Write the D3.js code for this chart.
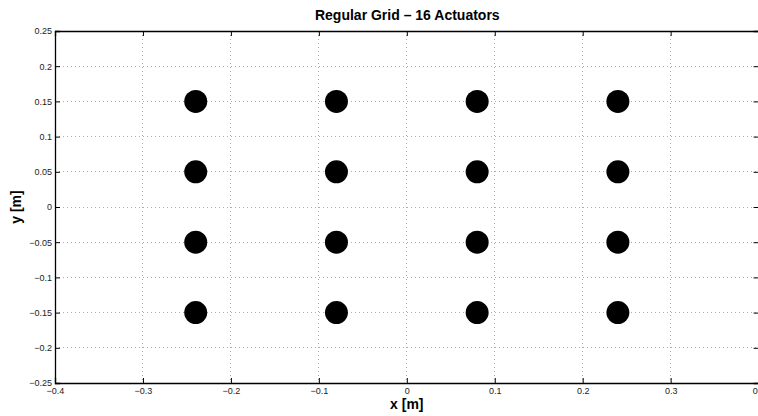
<!DOCTYPE html>
<html>
<head>
<meta charset="utf-8">
<script src="https://cdn.jsdelivr.net/npm/d3@7"></script>
<style>
  html, body { margin: 0; padding: 0; background: #fff; }
  svg { display: block; font-family: "Liberation Sans", Arial, Helvetica, sans-serif; }
</style>
</head>
<body>
<svg id="chart" width="758" height="416"></svg>
<script>
// Actuator positions on a regular 4 x 4 grid (metres)
const actuatorX = [-0.24, -0.08, 0.08, 0.24];
const actuatorY = [0.15, 0.05, -0.05, -0.15];

// Axis ticks and their labels
const xTicks = [-0.4, -0.3, -0.2, -0.1, 0, 0.1, 0.2, 0.3, 0.4];
const xTickLabels = ["\u22120.4", "\u22120.3", "\u22120.2", "\u22120.1", "0", "0.1", "0.2", "0.3", "0.4"];
const yTicks = [-0.25, -0.2, -0.15, -0.1, -0.05, 0, 0.05, 0.1, 0.15, 0.2, 0.25];
const yTickLabels = ["\u22120.25", "\u22120.2", "\u22120.15", "\u22120.1", "\u22120.05", "0", "0.05", "0.1", "0.15", "0.2", "0.25"];

const titleText = "Regular Grid \u2013 16 Actuators";
const xLabelText = "x [m]";
const yLabelText = "y [m]";

// Build the list of actuator points (every x paired with every y)
const points = [];
actuatorY.forEach(yv => actuatorX.forEach(xv => points.push({ x: xv, y: yv })));

const svg = d3.select("#chart");
const margin = { left: 55, top: 31 };
const plotW = 703.6, plotH = 352;

const x = d3.scaleLinear().domain([-0.4, 0.4]).range([margin.left, margin.left + plotW]);
const y = d3.scaleLinear().domain([-0.25, 0.25]).range([margin.top + plotH, margin.top]);

const pLeft = margin.left, pRight = margin.left + plotW;
const pTop = margin.top, pBottom = margin.top + plotH;

// Dotted grid
const grid = svg.append("g").attr("class", "grid");
grid.selectAll("line.gx").data(xTicks.slice(1, -1)).join("line").attr("class", "gx")
  .attr("x1", d => x(d)).attr("x2", d => x(d))
  .attr("y1", pTop).attr("y2", pBottom);
grid.selectAll("line.gy").data(yTicks.slice(1, -1)).join("line").attr("class", "gy")
  .attr("x1", pLeft).attr("x2", pRight)
  .attr("y1", d => y(d)).attr("y2", d => y(d));
grid.selectAll("line")
  .attr("stroke", "#9a9a9a").attr("stroke-width", 0.8)
  .attr("stroke-dasharray", "1,3").attr("shape-rendering", "crispEdges");

// Axes with inward ticks
const xFmt = (d, i) => xTickLabels[i];
const yFmt = (d, i) => yTickLabels[i];

const gx = svg.append("g").attr("transform", `translate(0,${pBottom})`)
  .call(d3.axisBottom(x).tickValues(xTicks).tickFormat(xFmt).tickSize(-5).tickPadding(5));
const gxTop = svg.append("g").attr("transform", `translate(0,${pTop})`)
  .call(d3.axisTop(x).tickValues(xTicks).tickFormat("").tickSize(-5));
const gy = svg.append("g").attr("transform", `translate(${pLeft},0)`)
  .call(d3.axisLeft(y).tickValues(yTicks).tickFormat(yFmt).tickSize(-5).tickPadding(3));
const gyRight = svg.append("g").attr("transform", `translate(${pRight},0)`)
  .call(d3.axisRight(y).tickValues(yTicks).tickFormat("").tickSize(-5));

[gx, gxTop, gy, gyRight].forEach(g => {
  g.select(".domain").attr("stroke", "#000").attr("stroke-width", 1.3);
  g.selectAll(".tick line").attr("stroke", "#000").attr("stroke-width", 1);
  g.selectAll(".tick text").attr("fill", "#222").style("font-size", "9px")
    .style("font-family", "'Liberation Sans', Arial, Helvetica, sans-serif");
});
gx.selectAll(".tick text").attr("dy", "0.71em");

// Actuator markers
svg.append("g").selectAll("circle").data(points).join("circle")
  .attr("cx", d => x(d.x)).attr("cy", d => y(d.y))
  .attr("r", 11.5).attr("fill", "#000");

// Title and axis labels
svg.append("text").attr("x", (pLeft + pRight) / 2 + 0.5).attr("y", 20)
  .attr("text-anchor", "middle").style("font-size", "14px").style("font-weight", "bold")
  .text(titleText);
svg.append("text").attr("x", (pLeft + pRight) / 2).attr("y", 409)
  .attr("text-anchor", "middle").style("font-size", "14px").style("font-weight", "bold")
  .text(xLabelText);
svg.append("text").attr("transform", `translate(21,${(pTop + pBottom) / 2}) rotate(-90)`)
  .attr("text-anchor", "middle").style("font-size", "14px").style("font-weight", "bold")
  .text(yLabelText);
</script>
</body>
</html>
